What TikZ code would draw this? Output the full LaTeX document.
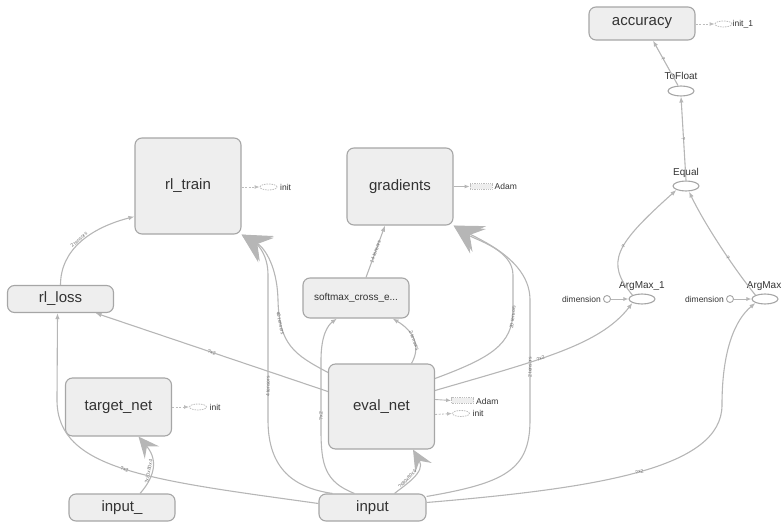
\documentclass[tikz,border=0pt]{standalone}
\usepackage{fontspec}
\setmainfont{Liberation Sans}
\usetikzlibrary{arrows.meta,calc,shapes.geometric}
\definecolor{boxfill}{HTML}{EEEEEE}
\definecolor{boxline}{HTML}{A6A6A6}
\definecolor{edgec}{HTML}{B6B6B6}
\definecolor{txt}{HTML}{333333}
\definecolor{lbl}{HTML}{707070}
\definecolor{dashc}{HTML}{BDBDBD}
\begin{document}
\begin{tikzpicture}[x=1pt,y=-1pt,
  opbox/.style={draw=boxline, fill=boxfill, line width=1.1pt, rounded corners=7pt,
    text=txt, inner sep=0pt, font=\fontsize{15}{15}\selectfont, minimum width=106pt},
  opell/.style={ellipse, draw=boxline, fill=white, line width=1.1pt,
    minimum width=26pt, minimum height=10pt, inner sep=0pt},
  elltxt/.style={text=txt, font=\fontsize{10}{10}\selectfont, inner sep=0pt},
  smalltxt/.style={text=txt, font=\fontsize{8.5}{8.5}\selectfont, inner sep=0pt, anchor=west},
  initell/.style={ellipse, draw=dashc, dash pattern=on 1.5pt off 1pt, line width=0.8pt,
    minimum width=17pt, minimum height=6pt, inner sep=0pt},
  adamrect/.style={draw=dashc, dash pattern=on 1pt off 0.8pt, line width=0.8pt, fill=boxfill,
    minimum width=22pt, minimum height=5.5pt, inner sep=0pt},
  dimcirc/.style={circle, draw=boxline, fill=white, line width=0.9pt, minimum size=7pt, inner sep=0pt},
  edge/.style={draw=edgec, line width=1.1pt, -{Latex[length=6pt,width=4.5pt]}},
  bigedge/.style={draw=edgec, line width=1.1pt, -{Stealth[length=29pt,width=29pt,inset=11pt]}},
  midedge/.style={draw=edgec, line width=1.1pt, -{Stealth[length=21pt,width=19pt,inset=8pt]}},
  ctrl/.style={draw=dashc, line width=0.9pt, dash pattern=on 2pt off 1.5pt, -{Latex[length=5pt,width=4pt]}},
  solid arrow/.style={draw=edgec, line width=0.9pt, -{Latex[length=5pt,width=4pt]}},
  elab/.style={sloped, text=lbl, font=\fontsize{5}{5}\selectfont, inner sep=0.5pt}
]
\useasboundingbox (0,0) rectangle (782,522);

% ---- main nodes ----
\node[opbox, minimum height=96pt] (rl_train) at (188,186) {rl\_train};
\node[opbox, minimum height=77pt] (gradients) at (400,186.5) {gradients};
\node[opbox, minimum height=40pt, font=\fontsize{10}{10}\selectfont] (softmax) at (356,298) {softmax\_cross\_e...};
\node[opbox, minimum height=27pt] (rl_loss) at (60.5,299) {rl\_loss};
\node[opbox, minimum height=58pt] (target_net) at (118.5,407) {target\_net};
\node[opbox, minimum height=85pt] (eval_net) at (381.5,406.5) {eval\_net};
\node[opbox, minimum height=27pt] (input_) at (122,507.5) {input\_};
\node[opbox, minimum height=27pt, minimum width=107pt] (input) at (372.5,507.5) {input};
\node[opbox, minimum height=33pt] (accuracy) at (642,23.5) {accuracy};

% ---- op ellipses ----
\node[opell] (ToFloat) at (681,91) {};
\node[elltxt] (ToFloatL) at (681,76) {ToFloat};
\node[opell] (Equal) at (686,186) {};
\node[elltxt] (EqualL) at (686,173) {Equal};
\node[opell] (ArgMax_1) at (642,299) {};
\node[elltxt] (ArgMax_1L) at (642,286) {ArgMax\_1};
\node[opell] (ArgMax) at (765,299) {};
\node[elltxt, anchor=east] (ArgMaxL) at (781.5,286) {ArgMax};

% ---- dimension constants ----
\node[dimcirc] (dim1) at (607,299) {};
\node[smalltxt, anchor=east] (dim1L) at (601,299) {dimension};
\node[dimcirc] (dim2) at (730,299) {};
\node[smalltxt, anchor=east] (dim2L) at (724,299) {dimension};

% ---- auxiliary (init / Adam) ----
\node[initell] (initA) at (268.5,187) {};
\node[smalltxt] (initAL) at (280,187) {init};
\node[adamrect] (adamG) at (481,186.5) {};
\node[smalltxt] (adamGL) at (494.5,186.5) {Adam};
\node[initell] (initT) at (198,407) {};
\node[smalltxt] (initTL) at (209.5,407) {init};
\node[adamrect] (adamE) at (462.5,400.5) {};
\node[smalltxt] (adamEL) at (476,401) {Adam};
\node[initell] (initE) at (461,413.5) {};
\node[smalltxt] (initEL) at (472.5,413.5) {init};
\node[initell] (init1) at (723.5,24) {};
\node[smalltxt] (init1L) at (732.5,24) {init\_1};

\draw[ctrl] (rl_train.east |- initA) -- (initA);
\draw[solid arrow] (gradients.east |- adamG) -- (adamG);
\draw[ctrl] (target_net.east |- initT) -- (initT);
\draw[solid arrow] ([yshift=7pt]eval_net.east) -- (adamE.west);
\draw[ctrl] ([yshift=-8pt]eval_net.east) -- (initE.west);
\draw[ctrl] (accuracy.east |- init1) -- (init1);
\draw[solid arrow] (dim1) -- (ArgMax_1.west);
\draw[solid arrow] (dim2) -- (ArgMax.west);

% ---- data edges ----
% rl_loss -> rl_train
\path[edge] (rl_loss.north) .. controls (60.5,250) and (90,228) .. ([yshift=18pt]rl_train.south west)
  node[elab, pos=0.5, above] {2 tensors};
% input_ -> target_net
\path[midedge] ([xshift=18pt]input_.north) .. controls (152,480) and (160,462) .. ([xshift=20pt]target_net.south)
  node[elab, pos=0.45, above] {?x80x80x4};
% input -> eval_net
\path[midedge] ([xshift=22pt]input.north) .. controls (405,485) and (426,472) .. ([xshift=31.5pt]eval_net.south)
  node[elab, pos=0.4, above] {?x80x80x4};
% input -> rl_loss
\path[edge] ([yshift=4pt]input.west) .. controls (150,480) and (57,470) .. (57,400)
  node[elab, pos=0.5] {?x2} -- ([xshift=-3pt]rl_loss.south);
% eval_net -> rl_loss
\path[edge] ([yshift=15pt]eval_net.west) -- ([xshift=35pt]rl_loss.south)
  node[elab, pos=0.5] {?x2};
% input -> rl_train
\path[bigedge] ([xshift=-40pt]input.north) .. controls (295,488) and (268,470) .. (268,420)
  -- (268,275) node[elab, pos=0.23] {4 tensors}
  .. controls (268,255) and (258,245) .. (rl_train.south east);
% eval_net -> rl_train
\path[bigedge] ([yshift=-9pt]eval_net.north west) .. controls (295,355) and (279,345) .. (278,300)
  node[elab, pos=0.8] {40 tensors}
  .. controls (277,262) and (262,246) .. (rl_train.south east);
% input -> softmax
\path[edge] ([xshift=-18pt]input.north) .. controls (325,482) and (321,465) .. (321,430)
  -- (321,360) node[elab, pos=0.2] {?x2}
  .. controls (321,335) and (328,325) .. ([xshift=-19pt]softmax.south);
% eval_net -> softmax
\path[edge] ([xshift=30pt]eval_net.north) .. controls (422,345) and (412,330) .. ([xshift=-17pt]softmax.south east)
  node[elab, pos=0.45] {2 tensors};
% softmax -> gradients
\path[edge] ([xshift=10pt]softmax.north) -- ([xshift=-15pt]gradients.south)
  node[elab, pos=0.5] {14 tensors};
% eval_net -> gradients
\path[bigedge] ([yshift=28pt]eval_net.east) .. controls (490,358) and (513,345) .. (513,310)
  node[elab, pos=0.93] {20 tensors}
  -- (513,275) .. controls (513,250) and (476,240) .. (gradients.south east);
% input -> gradients
\path[bigedge] ([yshift=-3pt]input.north east) .. controls (505,483) and (530,470) .. (530,420)
  -- (530,300) node[elab, pos=0.44] {2 tensors}
  .. controls (530,262) and (485,242) .. (gradients.south east);
% eval_net -> ArgMax_1
\path[edge] ([yshift=16pt]eval_net.east) .. controls (540,360) and (600,345) .. (ArgMax_1.south west)
  node[elab, pos=0.4] {?x2};
% input -> ArgMax
\path[edge] ([yshift=5pt]input.east) .. controls (600,488) and (722,468) .. (722,405)
  node[elab, pos=0.5] {?x2}
  .. controls (722,350) and (735,320) .. (ArgMax.south west);
% ArgMax_1 -> Equal
\path[edge] (ArgMax_1.north west) .. controls (605,262) and (615,245) .. (Equal.south west)
  node[elab, pos=0.55] {?};
% ArgMax -> Equal
\path[edge] (ArgMax.north west) .. controls (735,270) and (705,225) .. ([xshift=3pt]Equal.south)
  node[elab, pos=0.4] {?};
% Equal -> ToFloat
\path[edge] (Equal.north) -- (ToFloat.south) node[elab, pos=0.5] {?};
% ToFloat -> accuracy
\path[edge] ([xshift=-3pt]ToFloat.north) -- ([xshift=11pt]accuracy.south)
  node[elab, pos=0.6] {?};
\end{tikzpicture}
\end{document}
